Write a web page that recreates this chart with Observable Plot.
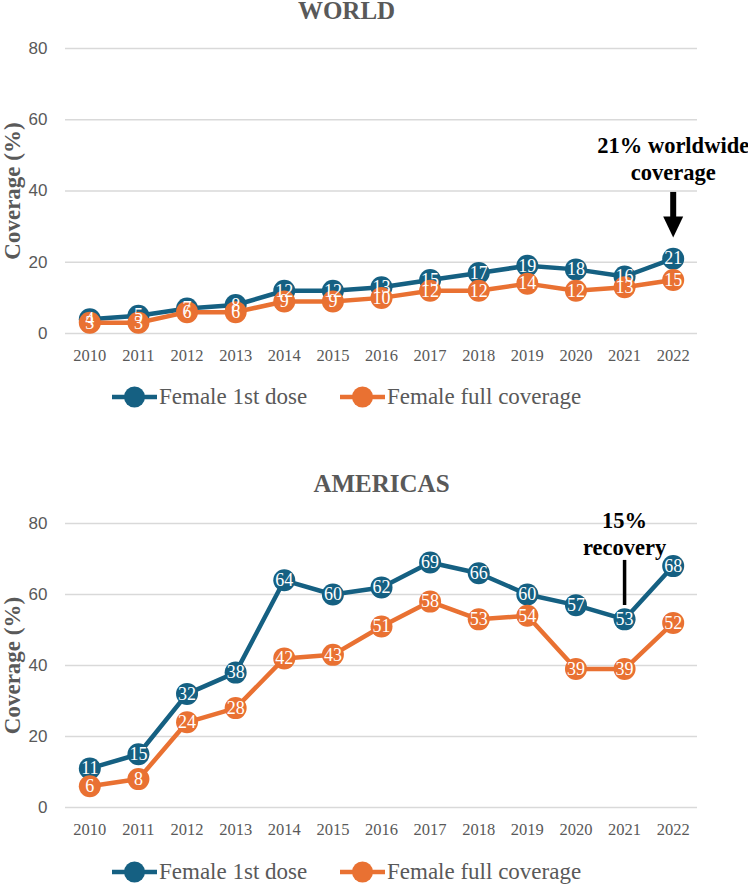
<!DOCTYPE html>
<html><head><meta charset="utf-8">
<script src="https://cdn.jsdelivr.net/npm/d3@7"></script>
<script src="https://cdn.jsdelivr.net/npm/@observablehq/plot@0.6"></script>
<style>
body{margin:0;background:#fff;}
#root{width:748px;position:relative;}
.legend{position:relative;width:748px;}
.legend .item{position:absolute;top:0;height:100%;display:flex;align-items:center;}
.legend span{font-family:"Liberation Serif","Times New Roman",serif;font-size:23px;color:#595959;margin-left:2px;white-space:nowrap;}
svg{display:block;}
</style></head><body><div id="root"></div>
<script>
const years = [2010, 2011, 2012, 2013, 2014, 2015, 2016, 2017, 2018, 2019, 2020, 2021, 2022];
const worldFirstDose = [4, 5, 7, 8, 12, 12, 13, 15, 17, 19, 18, 16, 21];
const worldFullCoverage = [3, 3, 6, 6, 9, 9, 10, 12, 12, 14, 12, 13, 15];
const americasFirstDose = [11, 15, 32, 38, 64, 60, 62, 69, 66, 60, 57, 53, 68];
const americasFullCoverage = [6, 8, 24, 28, 42, 43, 51, 58, 53, 54, 39, 39, 52];
const seriesNames = ["Female 1st dose", "Female full coverage"];
const seriesColors = ["#156082", "#E97132"];
const yTicks = [0, 20, 40, 60, 80];
const panelTitles = ["WORLD", "AMERICAS"];
const yLabel = "Coverage (%)";
const worldNoteLines = [{year: 2022, value: 52.8, text: "21% worldwide"}, {year: 2022, value: 45.2, text: "coverage"}];
const worldArrowShaft = [{year: 2022, from: 39.6, to: 32}];
const worldArrowHead = [{year: 2022, value: 29.9}];
const americasNoteLines = [{year: 2021, value: 80.8, text: "15%"}, {year: 2021, value: 73.2, text: "recovery"}];
const americasPointer = [{year: 2021, from: 69.6, to: 56.9}];

const serif = "'Liberation Serif', 'Times New Roman', serif";
const sans = "'Liberation Sans', Arial, sans-serif";
const grey = "#595959";

const downTriangle = {
  draw(context) {
    context.moveTo(-10, -10.5);
    context.lineTo(10, -10.5);
    context.lineTo(0, 10.5);
    context.closePath();
  }
};

function panel({title, first, full, height, marginTop, marginBottom, titleX, titleY, extra}) {
  const rows = [];
  years.forEach((y, i) => rows.push({year: y, value: first[i], series: seriesNames[0]}));
  years.forEach((y, i) => rows.push({year: y, value: full[i], series: seriesNames[1]}));
  const marks = [
    Plot.gridY(yTicks, {stroke: "#d9d9d9", strokeOpacity: 1, strokeWidth: 1.5}),
    Plot.axisY({ticks: yTicks, tickSize: 0, tickPadding: 18, fontSize: 17, fontFamily: sans, color: grey, label: null}),
    Plot.axisX({ticks: years, tickFormat: d => String(d), tickSize: 0, tickPadding: 16, fontSize: 16.5, fontFamily: serif, color: grey, label: null}),
    Plot.text([yLabel], {frameAnchor: "left", rotate: -90, dx: -53, textAnchor: "middle", lineAnchor: "middle", fontSize: 23, fontWeight: "bold", fontFamily: serif, fill: grey}),
    Plot.text([title], {frameAnchor: "top-left", dx: titleX - 65, dy: titleY - marginTop, textAnchor: "middle", lineAnchor: "middle", fontSize: 25, fontWeight: "bold", fontFamily: serif, fill: grey})
  ];
  seriesNames.forEach(s => {
    const d = rows.filter(r => r.series === s);
    marks.push(Plot.line(d, {x: "year", y: "value", stroke: "series", strokeWidth: 4.5}));
    marks.push(Plot.dot(d, {x: "year", y: "value", fill: "series", r: 11}));
  });
  marks.push(Plot.text(rows, {x: "year", y: "value", text: d => String(d.value), fill: "white", fontSize: 18, fontFamily: serif}));
  marks.push(...extra);
  return Plot.plot({
    width: 748, height, marginTop, marginBottom, marginLeft: 65, marginRight: 51,
    x: {type: "linear", domain: [2009.5, 2022.5]},
    y: {domain: [0, 80]},
    color: {domain: seriesNames, range: seriesColors},
    marks
  });
}

function legend(h) {
  const div = document.createElement("div");
  div.className = "legend";
  div.style.height = h + "px";
  const pos = [112, 340];
  seriesNames.forEach((s, i) => {
    const item = document.createElement("div");
    item.className = "item";
    item.style.left = pos[i] + "px";
    item.innerHTML = `<svg width="45" height="24"><line x1="0" x2="45" y1="12" y2="12" stroke="${seriesColors[i]}" stroke-width="4.5"/><circle cx="22.5" cy="12" r="10.5" fill="${seriesColors[i]}"/></svg><span>${s}</span>`;
    div.appendChild(item);
  });
  return div;
}

const noteStyle = {fontSize: 22.5, fontWeight: "bold", fontFamily: serif, fill: "black"};
const root = document.getElementById("root");
root.appendChild(panel({
  title: panelTitles[0], first: worldFirstDose, full: worldFullCoverage,
  height: 372, marginTop: 48, marginBottom: 39, titleX: 346, titleY: 10,
  extra: [
    Plot.text(worldNoteLines, {x: "year", y: "value", text: "text", ...noteStyle}),
    Plot.ruleX(worldArrowShaft, {x: "year", y1: "from", y2: "to", stroke: "black", strokeWidth: 6}),
    Plot.dot(worldArrowHead, {x: "year", y: "value", symbol: downTriangle, fill: "black", stroke: null})
  ]
}));
root.appendChild(legend(50));
root.appendChild(panel({
  title: panelTitles[1], first: americasFirstDose, full: americasFullCoverage,
  height: 428, marginTop: 101, marginBottom: 43, titleX: 381, titleY: 61,
  extra: [
    Plot.text(americasNoteLines, {x: "year", y: "value", text: "text", ...noteStyle}),
    Plot.ruleX(americasPointer, {x: "year", y1: "from", y2: "to", stroke: "black", strokeWidth: 3.5})
  ]
}));
root.appendChild(legend(44));
</script></body></html>
